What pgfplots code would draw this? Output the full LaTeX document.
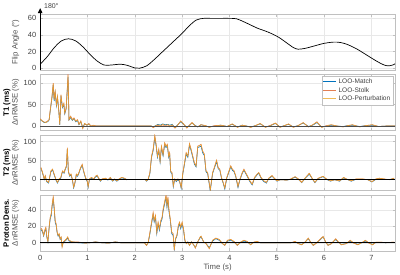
\documentclass[border=0pt]{standalone}
\usepackage{pgfplots}
\pgfplotsset{compat=1.18}
\usepackage{pgfplotstable}
\usepgfplotslibrary{groupplots}
\usetikzlibrary{arrows.meta}
\usepackage{fontspec}
\setmainfont{Liberation Sans}
\definecolor{mblue}{HTML}{0072BD}
\definecolor{morange}{HTML}{D95319}
\definecolor{myellow}{HTML}{EDB120}
\definecolor{tickgray}{HTML}{404040}
\definecolor{labgray}{HTML}{505050}
\definecolor{boxgray}{HTML}{C0C0C0}
\definecolor{gridgray}{HTML}{E8E8E8}

\pgfplotstableread{
t fa
0.00 5
0.15 14
0.30 25
0.45 33
0.60 35.5
0.75 33
0.90 26
1.05 17
1.20 9
1.35 4
1.50 4
1.70 5
1.85 3.5
2.00 0.5
2.10 0.2
2.25 3
2.40 10
2.55 18
2.70 26
2.85 34
3.00 42
3.15 51
3.30 58
3.45 60
3.60 60
3.80 60
4.00 60
4.15 59.5
4.30 56
4.45 52
4.60 48
4.75 45
4.90 41.5
5.05 37
5.20 31
5.35 25
5.45 23
5.60 24
5.80 27
6.00 30
6.20 31.5
6.35 31
6.50 28.5
6.70 23
6.90 16
7.10 9
7.25 4.5
7.35 3
7.45 4
7.50 5.5
}\tFA

\pgfplotstableread{
t m s p
0.000 15 17 16
0.052 11 11.5 11
0.087 8 9 9
0.12 9 9 8
0.16 10 12 11
0.19 14 15 15
0.21 32 35 34
0.25 66 69 68
0.276 95 100 99
0.296 58 62 61
0.317 78 81 80
0.345 47 50 49
0.366 66 69 68
0.39 40 42 42
0.415 3 4 4
0.44 70 73 72
0.47 43 45 45
0.50 50 53 52
0.52 28 30 30
0.55 40 42 41
0.59 114 122 118
0.61 14 15 15
0.645 20 23 22
0.68 13 15 14
0.715 17 19 18
0.75 10 12 11
0.79 13 15 14
0.82 3 4 4
0.86 10 12 11
0.90 -3 -6 -5
0.94 5 6 6
0.99 2 2 2
1.03 5 6 5
1.07 0 0 0
1.12 1 2 1
1.20 0 0 0
1.40 0 0.5 0
1.60 0 0 0
1.80 0 0.5 0
2.00 0 0 0
2.20 0 0 0
2.35 0 0 0
2.39 -2 -4 -3
2.44 1 0 1
2.49 4 2 3
2.54 2 -1 1
2.59 5 3 4
2.64 3 0 2
2.69 4 3 3
2.74 2 -2 1
2.79 4 2 3
2.85 -4 -5 -4
2.90 2 1 2
2.97 10 12 11
3.03 4 5 5
3.10 -3 -5 -4
3.16 2 3 2
3.21 7 8 8
3.27 2 1 1
3.33 -2 -2 -2
3.40 3 3 3
3.50 0 1 1
3.57 -2 -3 -3
3.68 0 1 0
3.82 2 2 2
3.95 -1 -1 -1
4.06 4 5 5
4.17 -2 -3 -3
4.27 2 2 2
4.36 0 0 0
4.45 -2 -3 -3
4.55 1 1 1
4.65 5 6 6
4.76 -2 -3 -3
4.87 1 2 1
4.97 6 7 7
5.07 -2 -3 -3
5.16 1 1 1
5.25 4 5 5
5.35 -2 -3 -3
5.45 1 1 1
5.56 7 8 8
5.67 -1 -2 -2
5.76 2 3 3
5.85 8 10 9
5.95 -2 -3 -3
6.05 0 1 0
6.15 2 3 3
6.28 0 0 0
6.40 -1 -2 -2
6.50 1 1 1
6.60 2 3 3
6.75 -1 -2 -2
6.88 1 1 1
7.02 2 3 3
7.15 -1 -1 -1
7.30 0 0 0
7.50 0 0 0
}\tTone

\pgfplotstableread{
t m s p
0.017 29 31.5 31
0.052 16 18 17
0.087 0 1 1
0.108 8 10 9
0.136 -6 -4 -5
0.178 -10 -8 -8
0.227 20 22 22
0.262 25 27 27
0.296 12 14 14
0.331 -1 1 1
0.366 -10 -8 -8
0.401 -1 1 1
0.436 3 5 5
0.471 20 22 22
0.506 16 18 18
0.527 25 27 27
0.554 33 36 35
0.575 80 84 83
0.596 20 22 22
0.624 8 10 10
0.652 12 14 14
0.680 -1 1 1
0.708 -23 -21 -21
0.736 -10 -8 -8
0.764 12 14 14
0.791 8 10 10
0.819 16 18 18
0.854 29 31 31
0.889 37 40 39
0.910 25 27 27
0.938 12 14 14
0.959 3 5 5
0.994 -6 -4 -4
1.015 -21 -19 -19
1.042 -1 1 1
1.084 3 5 5
1.133 0 1 1
1.168 6 8 8
1.203 9 11 11
1.238 2 3 3
1.273 -5 -4 -4
1.308 0 1 1
1.377 2 3 3
1.433 -2 -1 -1
1.482 4 5 5
1.531 -5 -4 -4
1.573 0 1 1
1.621 -5 -4 -4
1.670 0 1 1
1.726 4 5 5
1.782 2 3 3
1.831 -1 -1 -1
1.900 0 0 0
2.214 0 0 0
2.249 -5 -4 -4
2.284 0 1 1
2.319 15 18 17
2.354 58 62 61
2.388 76 80 79
2.423 110 116 115
2.451 88 93 92
2.479 58 62 61
2.507 76 80 79
2.535 45 49 48
2.563 84 88 87
2.598 62 66 65
2.632 92 97 96
2.660 84 88 87
2.688 89 93 92
2.716 58 62 61
2.737 67 71 70
2.758 19 22 22
2.786 15 18 17
2.814 -20 -17 -17
2.842 -1 1 1
2.877 -6 -4 -4
2.912 -1 1 1
2.946 -6 -4 -4
2.981 -24 -21 -21
3.016 15 18 17
3.051 40 44 43
3.086 67 71 70
3.121 58 62 61
3.156 90 95 94
3.190 76 80 79
3.225 58 62 61
3.260 40 44 43
3.295 33 36 35
3.330 84 88 87
3.365 86 90 89
3.400 88 93 92
3.435 70 75 74
3.470 63 67 66
3.505 20 23 22
3.540 15 18 17
3.595 -31 -28 -28
3.644 15 18 17
3.679 28 31 30
3.728 47 51 50
3.763 28 31 30
3.797 24 27 26
3.832 3 5 5
3.867 -10 -8 -8
3.902 -26 -23 -23
3.944 3 5 5
3.979 16 18 18
4.028 33 36 35
4.063 24 27 26
4.097 20 23 22
4.132 8 10 10
4.181 -22 -19 -19
4.223 -1 1 1
4.272 16 18 18
4.307 24 27 26
4.341 16 18 18
4.376 8 10 10
4.432 -6 -4 -4
4.481 -15 -13 -13
4.530 3 5 5
4.586 12 14 14
4.620 16 18 18
4.669 3 5 5
4.725 -6 -4 -4
4.781 -10 -8 -8
4.830 2 3 3
4.900 8 10 10
4.948 2 3 3
5.004 -5 -4 -4
5.074 -1 -1 -1
5.213 -2 -2 -2
5.297 0 1 1
5.388 6 7 7
5.457 0 1 1
5.527 -9 -8 -8
5.597 2 3 3
5.687 14 16 16
5.757 0 1 1
5.806 -9 -8 -8
5.876 2 3 3
5.980 7 8 8
6.050 0 1 1
6.134 -5 -4 -4
6.224 -1 -1 -1
6.329 -5 -4 -4
6.413 4 5 5
6.503 -1 -1 -1
6.573 -5 -4 -4
6.678 0 1 1
6.817 0 1 1
6.922 -1 -1 -1
7.013 -7 -6 -6
7.096 0 1 1
7.166 2 3 3
7.271 0 1 1
7.375 -1 -1 -1
7.480 2 3 3
}\tTtwo

\pgfplotstableread{
t m s p
0.017 16 18 17
0.052 13 15 14
0.073 8 9 9
0.100 14 16 15
0.120 17 19 18
0.143 6 7 7
0.164 1 1.6 1.5
0.192 19 21 20
0.213 29 31 31
0.234 33 35.5 35
0.255 45 48 47
0.276 53 56 55
0.296 41 44 43
0.317 25 27 27
0.338 21 23 23
0.359 12 13 13
0.380 8 9 9
0.401 10 11 11
0.422 4 5 5
0.443 6 7 7
0.464 -4 -5 -5
0.490 1 1 1
0.527 2 3 3
0.561 4 5 5
0.582 6 7 7
0.610 2 3 3
0.680 1 1 1
0.800 0 1 0.5
0.950 -0.5 -0.4 -0.4
1.050 0 0 0
1.170 1 1 1
1.300 0 0 0
1.450 -0.5 -0.4 -0.4
1.590 1 1 1
1.700 0 0 0
1.870 0 0 0
2.000 0 0 0
2.200 0 0 0
2.249 -3 -3.3 -3
2.284 0 0.8 0.5
2.320 11 13 12
2.354 23 25 25
2.388 34 37 36
2.410 25 27 27
2.437 31 33.5 33
2.465 11 13 13
2.493 23 25 25
2.520 15 17 17
2.550 25 27 27
2.577 29 31 31
2.600 39 41.6 41
2.630 47 50 49
2.660 55 58 57
2.680 43 46 45
2.700 53 56 55
2.720 39 41.6 41
2.750 27 29 29
2.780 11 13 13
2.810 9 11 11
2.835 -8 -9.4 -9
2.860 4 5 5
2.890 8 9 9
2.920 19 21 21
2.945 23 25 25
2.970 17 19 19
3.000 23 25 25
3.030 15 17 17
3.060 2 3 3
3.090 -1 -1 -1
3.120 1 1 1
3.156 -3 -3.3 -3
3.200 1 1 1
3.250 -3 -3.3 -3
3.280 -6 -6.5 -6
3.330 1 1 1
3.380 6 7 7
3.400 7 8 8
3.456 1 0.8 1
3.505 -1 -1 -1
3.574 -6 -7.3 -7
3.644 2 3 3
3.714 5 5.7 5.5
3.784 3 4 4
3.853 -1 -1 -1
3.902 -3 -3.3 -3
3.958 2 3 3
4.028 3 4 4
4.097 1 1.6 1.5
4.167 -3 -3.3 -3
4.237 0.5 0.8 0.8
4.307 2 3 3
4.376 1 1.6 1.5
4.446 -2 -2.5 -2.5
4.516 0.5 0.8 0.8
4.586 1 1.6 1.5
4.655 0 0 0
5.000 0 0 0
5.300 0 0 0
5.388 1 1.6 1.5
5.457 -1 -1.2 -1
5.527 -2 -2.5 -2.5
5.597 0.5 0.8 0.8
5.667 5 5.7 5.5
5.715 0.5 0.8 0.8
5.771 -3 -3.3 -3
5.841 0 -0.4 0
5.925 4 4.9 4.5
5.980 7 7.7 7.5
6.036 0.5 0.8 0.8
6.085 -3 -3.3 -3
6.155 -1 -1.2 -1
6.245 4 4.9 4.5
6.294 1 1.6 1.5
6.364 -2 -2.5 -2.5
6.469 -1 -1.2 -1
6.552 2 3 3
6.622 0 -0.4 0
6.713 -2 -2.5 -2.5
6.817 0.5 0.8 0.8
6.873 2 3 3
6.943 0 -0.4 0
7.026 -2 -2.5 -2.5
7.096 0.5 0.8 0.8
7.200 0.5 0.8 0.8
7.300 0 0 0
7.480 0.5 0.8 0.8
}\tPD

\begin{document}
\begin{tikzpicture}
\begin{groupplot}[
  group style={group size=1 by 4, vertical sep=4.5pt, xticklabels at=edge bottom},
  width=357.5pt, height=56.25pt, scale only axis,
  xmin=0, xmax=7.5, xtick={0,1,2,3,4,5,6,7},
  grid=major, major grid style={gridgray, line width=0.4pt},
  axis line style={boxgray, line width=0.6pt},
  tick style={boxgray, line width=0.5pt}, major tick length=2.5pt,
  tick align=inside,
  ticklabel style={font=\fontsize{7.5}{8.5}\selectfont, text=tickgray},
  /pgf/number format/assume math mode=true,
  xticklabel style={yshift=-0.5pt},
  yticklabel style={xshift=-0.5pt},
  ylabel style={font=\fontsize{7.8}{8.8}\selectfont, align=center, at={(axis description cs:-0.049,0.5)}, anchor=south, text=labgray},
  xlabel style={font=\fontsize{7.8}{9}\selectfont, text=labgray, yshift=3pt},
  every axis plot/.append style={line width=0.6pt},
  legend cell align=left,
]
\nextgroupplot[ymin=-2, ymax=65, ytick={0,20,40,60}, ylabel={Flip Angle (°)}, clip=false]
\addplot[black, smooth, line width=0.7pt] table[x=t, y=fa] {\tFA};
\addplot[black, line width=0.9pt, -{Triangle[length=5pt,width=4.5pt]}] coordinates {(0,-2) (0,72.3)};
\node[anchor=west, font=\fontsize{7}{8}\selectfont, text=tickgray, inner sep=0pt] at (axis cs:0.08,74.5) {180°};

\nextgroupplot[ymin=-10, ymax=120, ytick={0,50,100},
  ylabel={\textcolor{black}{\bfseries T1 (ms)}\\ΔnRMSE (\%)},
  legend style={at={(0.995,0.975)}, anchor=north east, font=\fontsize{6.6}{7}\selectfont, draw=boxgray, fill=white, inner sep=0.8pt, row sep=-1.8pt, text=tickgray},
  legend image code/.code={\draw[#1, line width=1pt] (0pt,0pt) -- (13pt,0pt);}]
\addplot[mblue] table[x=t, y=m] {\tTone};
\addplot[morange!75!white] table[x=t, y=s] {\tTone};
\addplot[myellow!85!morange, opacity=0.75] table[x=t, y=p] {\tTone};
\addplot[black!70, line width=0.9pt, forget plot] coordinates {(0,0) (7.5,0)};
\legend{LOO-Match, LOO-Stolk, LOO-Perturbation}

\nextgroupplot[ymin=-30, ymax=118, ytick={0,50,100},
  ylabel={\textcolor{black}{\bfseries T2 (ms)}\\ΔnRMSE (\%)}]
\addplot[mblue] table[x=t, y=m] {\tTtwo};
\addplot[morange!75!white] table[x=t, y=s] {\tTtwo};
\addplot[myellow!85!morange, opacity=0.75] table[x=t, y=p] {\tTtwo};
\addplot[black, line width=0.7pt] coordinates {(0,0) (7.5,0)};

\nextgroupplot[ymin=-10, ymax=58, ytick={0,20,40},
  ylabel={\textcolor{black}{\bfseries Proton Dens.}\\ΔnRMSE (\%)}, xlabel={Time (s)}]
\addplot[mblue] table[x=t, y=m] {\tPD};
\addplot[morange!75!white] table[x=t, y=s] {\tPD};
\addplot[myellow!85!morange, opacity=0.75] table[x=t, y=p] {\tPD};
\addplot[black, line width=0.7pt] coordinates {(0,0) (7.5,0)};
\end{groupplot}
\path ([xshift=5pt,yshift=14.3pt]group c1r1.north east);
\path ([xshift=-37.5pt,yshift=-21.5pt]group c1r4.south west);
\end{tikzpicture}
\end{document}
